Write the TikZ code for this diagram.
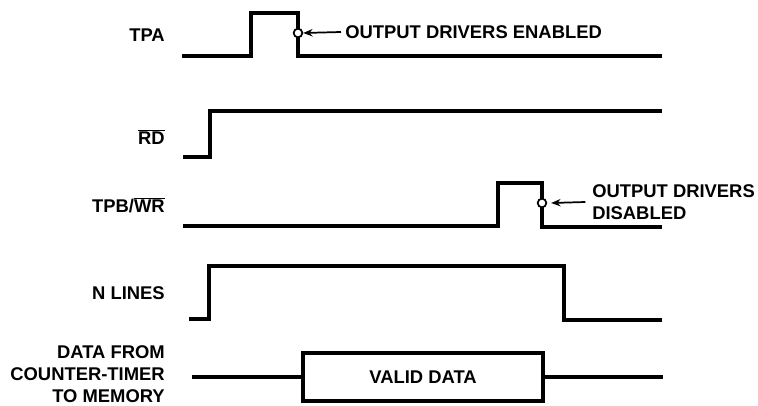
\documentclass[tikz,border=0pt]{standalone}
\usepackage{fontspec}
\setmainfont{Liberation Sans}
\usetikzlibrary{arrows.meta}
\newcommand{\ovl}[1]{$\overline{\hbox{#1}}$}
\begin{document}
\begin{tikzpicture}[x=0.75pt,y=-0.75pt,
  sig/.style={line width=3.2pt,line join=miter,line cap=butt},
  lbl/.style={font=\fontsize{13.8}{16.5}\selectfont\bfseries, inner sep=0pt},
  ring/.style={circle,draw,fill=white,line width=1.3pt,minimum size=6.5pt,inner sep=0pt},
  pointer/.style={line width=1.3pt,-{Stealth[length=7pt,width=5.5pt]}}]
\useasboundingbox (0,0) rectangle (758,406);
% labels
\node[lbl,anchor=east] (tpa) at (165,35) {TPA};
\node[lbl,anchor=east] (rd) at (165,137) {\ovl{RD}};
\node[lbl,anchor=east] (tpb) at (165,205) {TPB/\ovl{WR}};
\node[lbl,anchor=east] (nl) at (165,293) {N LINES};
\node[lbl,anchor=east,align=right] (dat) at (165,374) {DATA FROM\\COUNTER-TIMER\\TO MEMORY};
% TPA
\draw[sig] (182,56) -- (251,56) -- (251,13) -- (298,13) -- (298,56) -- (662,56);
\coordinate (c1) at (298,33);
\node[ring] (r1) at (c1) {};
\node[lbl,anchor=west] (en) at (345,32) {OUTPUT DRIVERS ENABLED};
\draw[pointer] ([xshift=-3pt]en.west) -- (r1.east);
% RD
\draw[sig] (183,157) -- (210,157) -- (210,111) -- (662,111);
% TPB/WR
\draw[sig] (183,226) -- (498,226) -- (498,183) -- (542,183) -- (542,227) -- (662,227);
\coordinate (c2) at (542,203);
\node[ring] (r2) at (c2) {};
\node[lbl,anchor=west,align=left] (dis) at (592,202) {OUTPUT DRIVERS\\DISABLED};
\draw[pointer] ([xshift=-5pt]dis.west) -- ([xshift=3pt]r2.east);
% N LINES
\draw[sig] (189,319) -- (209,319) -- (209,266) -- (564,266) -- (564,320) -- (662,320);
% DATA
\node[draw,line width=3.2pt,minimum width=240*0.75pt,minimum height=48*0.75pt,inner sep=0pt,lbl] (vd) at (423,377) {VALID DATA};
\coordinate (dl) at (192,377);
\coordinate (dr) at (663,377);
\draw[sig] (dl) -- (vd.west);
\draw[sig] (vd.east) -- (dr);
\end{tikzpicture}
\end{document}
